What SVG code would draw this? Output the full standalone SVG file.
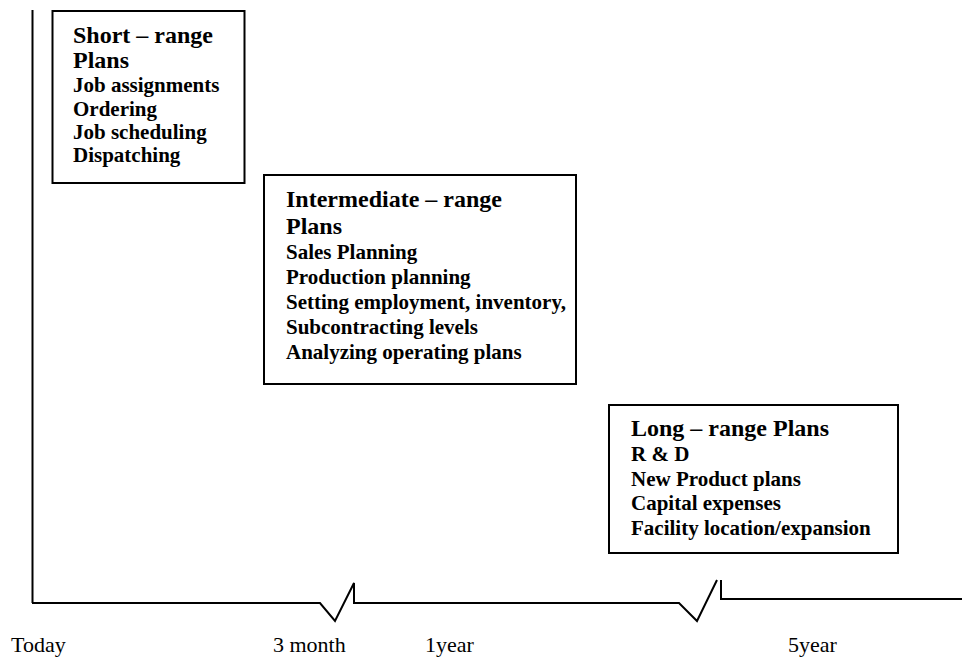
<svg xmlns="http://www.w3.org/2000/svg" width="962" height="659" viewBox="0 0 962 659">
<style>
  .box { fill: #fff; stroke: #000; stroke-width: 2; }
  .ax { fill: none; stroke: #000; stroke-width: 2; }
  .h { font-family: "Liberation Serif", "Times New Roman", serif; font-weight: bold; font-size: 24px; fill: #000; }
  .i { font-family: "Liberation Serif", "Times New Roman", serif; font-weight: bold; font-size: 21px; fill: #000; }
  .lbl { font-family: "Liberation Serif", "Times New Roman", serif; font-size: 22px; fill: #000; }
</style>
<rect width="962" height="659" fill="#fff"/>
<g id="connectors">
  <path class="ax" d="M32.5,10 V603"/>
  <path class="ax" d="M32,603 H320 L335,621 L354,583 V603 H679 L697,621 L717,580"/>
  <path class="ax" d="M721,580 V600 M721,599 H962"/>
</g>
<g id="short-range">
  <rect class="box" x="52.5" y="11" width="192" height="172"/>
  <text class="h" x="73" y="43">Short – range</text>
  <text class="h" x="73" y="68">Plans</text>
  <text class="i" x="73" y="92">Job assignments</text>
  <text class="i" x="73" y="116">Ordering</text>
  <text class="i" x="73" y="139">Job scheduling</text>
  <text class="i" x="73" y="162">Dispatching</text>
</g>
<g id="intermediate-range">
  <rect class="box" x="264" y="175" width="312" height="209"/>
  <text class="h" x="286" y="207">Intermediate – range</text>
  <text class="h" x="286" y="234">Plans</text>
  <text class="i" x="286" y="259">Sales Planning</text>
  <text class="i" x="286" y="284">Production planning</text>
  <text class="i" x="286" y="309">Setting employment, inventory,</text>
  <text class="i" x="286" y="334">Subcontracting levels</text>
  <text class="i" x="286" y="359">Analyzing operating plans</text>
</g>
<g id="long-range">
  <rect class="box" x="609" y="405" width="289" height="148"/>
  <text class="h" x="631" y="436">Long – range Plans</text>
  <text class="i" x="631" y="461">R &amp; D</text>
  <text class="i" x="631" y="486">New Product plans</text>
  <text class="i" x="631" y="510">Capital expenses</text>
  <text class="i" x="631" y="535">Facility location/expansion</text>
</g>
<g id="labels">
  <text class="lbl" x="11" y="652">Today</text>
  <text class="lbl" x="273" y="652">3 month</text>
  <text class="lbl" x="425" y="652">1year</text>
  <text class="lbl" x="788" y="652">5year</text>
</g>
</svg>
